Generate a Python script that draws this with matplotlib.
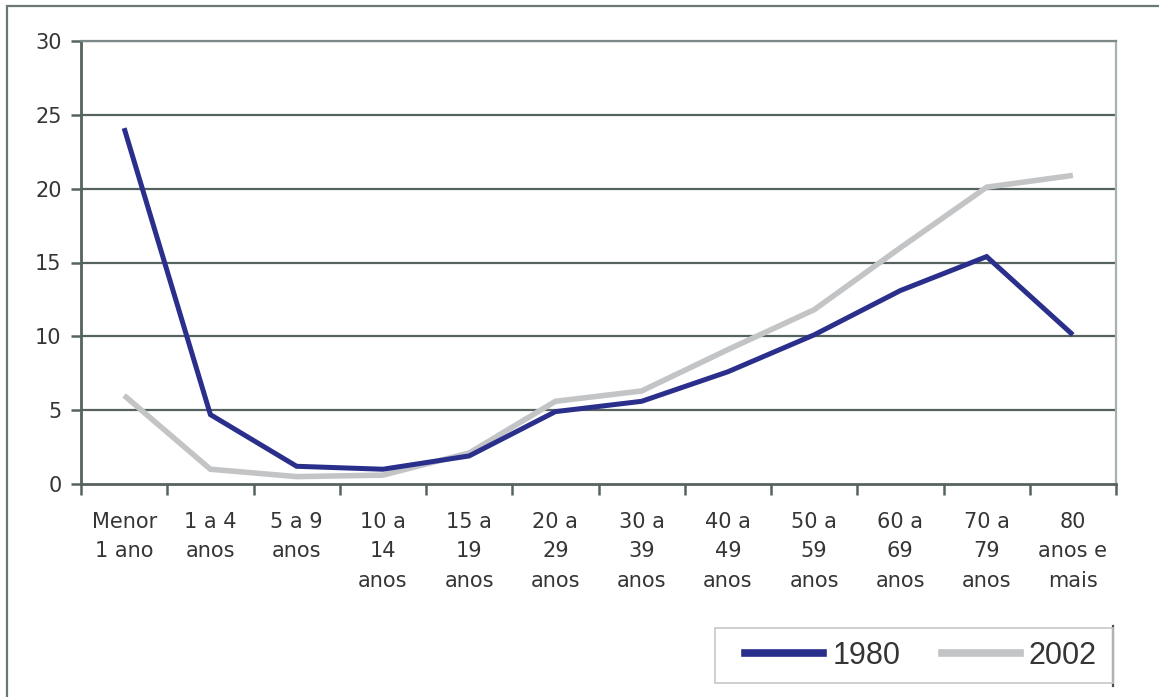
import matplotlib
matplotlib.use("Agg")
import matplotlib.pyplot as plt
from matplotlib.patches import Rectangle
from matplotlib.lines import Line2D

plt.rcParams['font.family'] = ['Liberation Sans', 'DejaVu Sans']

# Age groups and rates per series
categories = ["Menor\n1 ano", "1 a 4\nanos", "5 a 9\nanos", "10 a\n14\nanos",
              "15 a\n19\nanos", "20 a\n29\nanos", "30 a\n39\nanos", "40 a\n49\nanos",
              "50 a\n59\nanos", "60 a\n69\nanos", "70 a\n79\nanos", "80\nanos e\nmais"]
values_1980 = [24.1, 4.7, 1.2, 1.0, 1.9, 4.9, 5.6, 7.6, 10.1, 13.1, 15.4, 10.1]
values_2002 = [6.0, 1.0, 0.5, 0.6, 2.1, 5.6, 6.3, 9.1, 11.8, 16.0, 20.1, 20.9]
series_labels = ["1980", "2002"]
y_ticks = [0, 5, 10, 15, 20, 25, 30]

W, H = 1159, 697
fig = plt.figure(figsize=(W / 100, H / 100), dpi=100)
fig.patch.set_facecolor("white")

# outer frame
fig.patches.append(Rectangle((7 / W, -0.05), 1.2, 1 - 6 / H + 0.05,
                             transform=fig.transFigure, fill=False,
                             edgecolor="#6b7676", linewidth=1.6, zorder=0))

ax = fig.add_axes([81 / W, 1 - 484 / H, (1116 - 81) / W, (484 - 41) / H])

grid_c = "#56625f"
text_c = "#353535"
blue = "#2b2f8c"
gray = "#c3c4c6"
tick_font = ["DejaVu Sans"]

x = list(range(len(categories)))
ax.set_xlim(-0.5, len(categories) - 0.5)
ax.set_ylim(0, 30)

for yv in y_ticks[1:]:
    ax.axhline(yv, color=grid_c, linewidth=1.6, zorder=1)

ax.plot(x, values_2002, color=gray, linewidth=4.0, zorder=3,
        solid_joinstyle="miter", solid_capstyle="butt")
ax.plot(x, values_1980, color=blue, linewidth=3.6, zorder=4,
        solid_joinstyle="miter", solid_capstyle="butt")

for side in ["left", "bottom"]:
    ax.spines[side].set_color(grid_c)
    ax.spines[side].set_linewidth(2.0)
ax.spines["top"].set_color("#7d8888")
ax.spines["top"].set_linewidth(1.6)
ax.spines["right"].set_color("#a9b0b0")
ax.spines["right"].set_linewidth(1.6)

ax.set_yticks(y_ticks)
ax.set_yticklabels([str(v) for v in y_ticks], family=tick_font)
ax.tick_params(axis="y", length=7, width=1.8, color=grid_c, pad=7,
               labelsize=15, labelcolor=text_c)

ax.set_xticks([i - 0.5 for i in range(len(categories) + 1)])
ax.set_xticklabels([])
ax.set_xticks(x, minor=True)
ax.set_xticklabels(categories, minor=True, linespacing=1.6, family=tick_font)
ax.tick_params(axis="x", which="major", length=8, width=1.8, color=grid_c)
ax.tick_params(axis="x", which="minor", length=0, pad=20,
               labelsize=15, labelcolor=text_c)

# legend box
fig.patches.append(Rectangle((715 / W, 1 - 683 / H), (1113 - 715) / W, (683 - 628) / H,
                             transform=fig.transFigure, fill=False,
                             edgecolor="#c4c8c8", linewidth=1.2, zorder=2))
fig.lines.append(Line2D([1113 / W, 1113 / W], [1 - 686 / H, 1 - 626 / H],
                        transform=fig.transFigure, color="#4a4f4f", linewidth=1.6))

handles = [Line2D([], [], color=blue, linewidth=5.5),
           Line2D([], [], color=gray, linewidth=5.5)]
fig.legend(handles, series_labels, loc="center",
           bbox_to_anchor=(921 / W, 1 - 656 / H), ncol=2, frameon=False,
           fontsize=22, handlelength=2.55, handletextpad=0.3, columnspacing=1.35,
           labelcolor=text_c, borderpad=0, borderaxespad=0)

fig.savefig("out.png", dpi=100, facecolor="white")
